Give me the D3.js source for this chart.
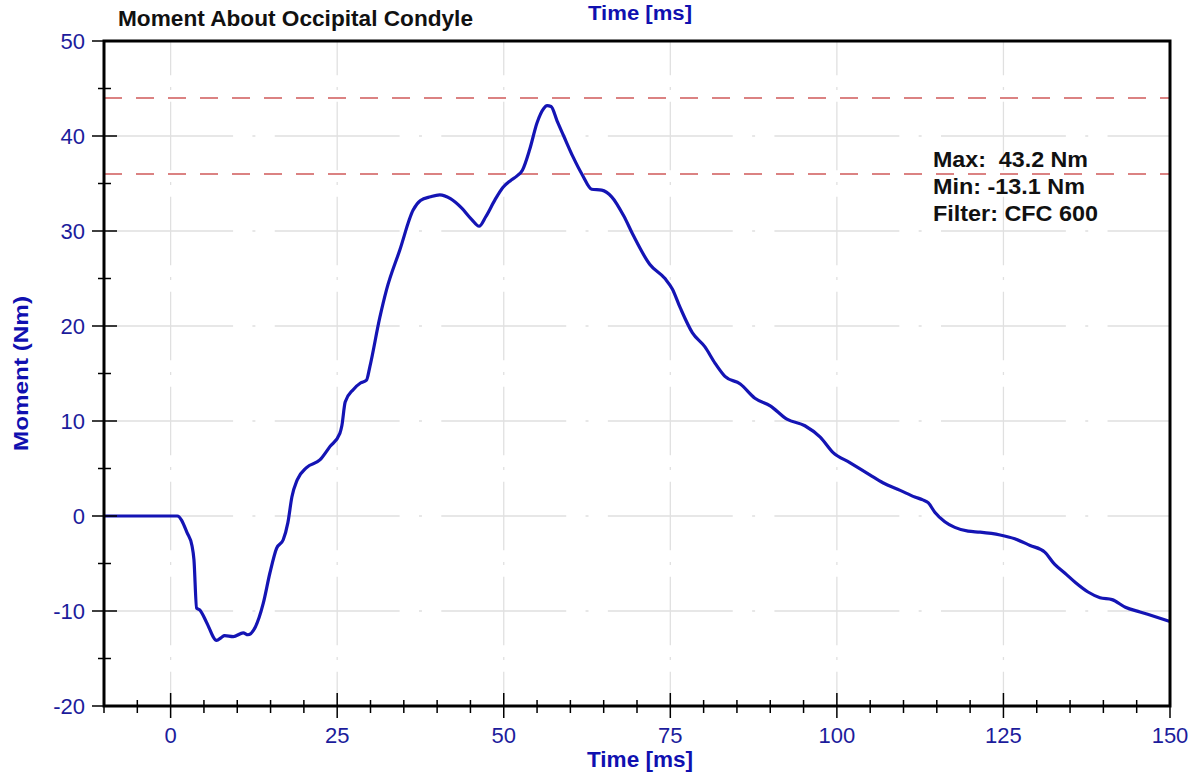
<!DOCTYPE html>
<html>
<head>
<meta charset="utf-8">
<script src="https://cdn.jsdelivr.net/npm/d3@7"></script>
<style>
  html, body { margin: 0; padding: 0; background: #fff; }
  svg { display: block; font-family: "Liberation Sans", Arial, sans-serif; }
</style>
</head>
<body>
<svg id="chart" width="1197" height="776"></svg>
<script>
// ---- data ----
const timeMs = [-10, 1.0, 2.5, 3.2, 3.5, 3.9, 4.4, 5.4, 6.9, 7.6, 8.1, 9.4, 10.9, 11.6, 12.7, 13.9, 14.9, 15.9, 16.9, 17.6,
  18.2, 19.0, 20.4, 22.4, 23.9, 25.4, 25.7, 26.2, 27.4, 28.5, 29.4, 29.9, 31.4, 32.4, 34.4, 36.4, 37.5, 39.0, 40.4, 42.0,
  43.7, 45.2, 46.3, 47.3, 48.7, 49.9, 51.0, 52.0, 52.8, 53.9, 55.0, 56.0, 56.5, 57.1, 58.0, 59.0, 60.4, 61.8, 63.2, 64.7,
  66.2, 68.0, 69.4, 71.9, 74.2, 75.3, 76.5, 78.3, 80.2, 81.7, 83.2, 85.5, 87.7, 90.0, 92.5, 95.2, 97.5, 99.4, 102.0, 105.0,
  106.9, 109.5, 111.7, 112.9, 113.7, 114.7, 116.2, 117.7, 119.7, 121.5, 124.5, 126.7, 129.0, 131.2, 132.7, 134.2, 135.8,
  137.7, 139.5, 141.3, 143.3, 145.5, 147.8, 150.0];
const momentNm = [0, 0, -1.8, -3.1, -4.6, -9.7, -9.9, -11.2, -13.1, -12.8, -12.6, -12.7, -12.3, -12.5, -11.7, -9.2, -6.0, -3.4, -2.5, -0.7,
  2.0, 3.8, 5.1, 5.9, 7.3, 8.7, 9.5, 12.0, 13.3, 14.0, 14.3, 15.7, 20.9, 23.8, 28.0, 32.2, 33.2, 33.6, 33.8, 33.4,
  32.4, 31.2, 30.5, 31.5, 33.3, 34.6, 35.3, 35.8, 36.4, 38.6, 41.4, 42.9, 43.2, 43.1, 41.6, 40.0, 37.8, 35.9, 34.4, 34.3,
  33.6, 31.6, 29.6, 26.5, 25.0, 23.9, 21.9, 19.3, 17.8, 16.1, 14.7, 13.9, 12.4, 11.6, 10.2, 9.5, 8.3, 6.7, 5.6, 4.3,
  3.5, 2.7, 2.0, 1.7, 1.4, 0.4, -0.6, -1.2, -1.6, -1.7, -2.0, -2.4, -3.1, -3.8, -5.1, -6.0, -7.0,
  -8.0, -8.6, -8.8, -9.6, -10.1, -10.6, -11.1];
const xTickLabels = [0, 25, 50, 75, 100, 125, 150];
const yTickLabels = [-20, -10, 0, 10, 20, 30, 40, 50];
const limitLines = [44, 36];
const annotationLines = ["Max:  43.2 Nm", "Min: -13.1 Nm", "Filter: CFC 600"];
const chartTitle = "Moment About Occipital Condyle";
const xTitle = "Time [ms]";
const yTitle = "Moment (Nm)";

// ---- layout ----
const W = 1197, H = 776;
const m = { left: 104, right: 27, top: 41, bottom: 70 };
const svg = d3.select("#chart");
const x = d3.scaleLinear().domain([-10, 150]).range([m.left, W - m.right]);
const y = d3.scaleLinear().domain([-20, 50]).range([H - m.bottom, m.top]);
const blue = "#1c1c9c";
const titleBlue = "#1010b0";
const gridColor = "#e0e0e0";

// ---- grid (long segment centred on each crossing grid line, small dot between) ----
const xPeriod = x(25) - x(0);
const yPeriod = y(0) - y(10);
const g = svg.append("g");
function pattern(p, segFrac) {
  const seg = p * segFrac, gap = (p - seg - 3) / 2;
  return { arr: `${seg},${gap},3,${gap}`, seg };
}
const hp = pattern(xPeriod, 0.75);
const hStart = x(0) - hp.seg / 2 - x(-10);
g.selectAll(".hgrid").data(d3.range(-10, 50, 10)).join("line")
  .attr("x1", x(-10)).attr("x2", x(150))
  .attr("y1", d => y(d)).attr("y2", d => y(d))
  .attr("stroke", gridColor).attr("stroke-width", 1.3)
  .attr("stroke-dasharray", hp.arr)
  .attr("stroke-dashoffset", xPeriod - (((hStart % xPeriod) + xPeriod) % xPeriod));
const vp = pattern(yPeriod, 0.72);
g.selectAll(".vgrid").data(d3.range(0, 150, 25)).join("line")
  .attr("x1", d => x(d)).attr("x2", d => x(d))
  .attr("y1", y(50)).attr("y2", y(-20))
  .attr("stroke", gridColor).attr("stroke-width", 1.3)
  .attr("stroke-dasharray", vp.arr)
  .attr("stroke-dashoffset", vp.seg / 2);

// ---- limit lines ----
svg.append("g").selectAll("line").data(limitLines).join("line")
  .attr("x1", x(-10)).attr("x2", x(150))
  .attr("y1", d => y(d)).attr("y2", d => y(d))
  .attr("stroke", "#cf5a5a").attr("stroke-width", 1.4)
  .attr("stroke-dasharray", "18,14");

// ---- curve ----
const pts = timeMs.map((t, i) => [t, momentNm[i]]);
svg.append("path").datum(pts)
  .attr("fill", "none").attr("stroke", "#1414b4").attr("stroke-width", 3.2)
  .attr("stroke-linejoin", "round")
  .attr("d", d3.line().x(d => x(d[0])).y(d => y(d[1])).curve(d3.curveMonotoneX));

// ---- axes ----
const ax = svg.append("g");
const xMinor = d3.range(-10, 151, 5).filter(v => v % 25 !== 0);
ax.selectAll(".xminor").data(xMinor).join("line")
  .attr("x1", d => x(d)).attr("x2", d => x(d))
  .attr("y1", y(-20) - 6).attr("y2", y(-20) + 7)
  .attr("stroke", "#000").attr("stroke-width", 1.5);
ax.selectAll(".xmajor").data(xTickLabels).join("line")
  .attr("x1", d => x(d)).attr("x2", d => x(d))
  .attr("y1", y(-20) - 13).attr("y2", y(-20) + 12)
  .attr("stroke", "#000").attr("stroke-width", 1.5);
const yMinor = d3.range(-15, 50, 10);
ax.selectAll(".yminor").data(yMinor).join("line")
  .attr("x1", x(-10) - 6).attr("x2", x(-10) + 7)
  .attr("y1", d => y(d)).attr("y2", d => y(d))
  .attr("stroke", "#000").attr("stroke-width", 1.5);
ax.selectAll(".ymajor").data(yTickLabels).join("line")
  .attr("x1", x(-10) - 12).attr("x2", d => (d === 50 || d === -20) ? x(-10) : x(-10) + 13)
  .attr("y1", d => y(d)).attr("y2", d => y(d))
  .attr("stroke", "#000").attr("stroke-width", 1.5);
svg.append("rect")
  .attr("x", x(-10)).attr("y", y(50))
  .attr("width", x(150) - x(-10)).attr("height", y(-20) - y(50))
  .attr("fill", "none").attr("stroke", "#000").attr("stroke-width", 3);

// tick labels
ax.selectAll(".xl").data(xTickLabels).join("text")
  .attr("x", d => x(d)).attr("y", y(-20) + 37)
  .attr("text-anchor", "middle").attr("fill", blue)
  .attr("font-size", 22).text(d => d);
ax.selectAll(".yl").data(yTickLabels).join("text")
  .attr("x", x(-10) - 19).attr("y", d => y(d) + 8)
  .attr("text-anchor", "end").attr("fill", blue)
  .attr("font-size", 22).text(d => d);

// titles
svg.append("text").attr("x", 640).attr("y", 767)
  .attr("text-anchor", "middle").attr("fill", titleBlue)
  .attr("font-weight", "bold").attr("font-size", 22)
  .attr("textLength", 106).attr("lengthAdjust", "spacingAndGlyphs").text(xTitle);
svg.append("text").attr("x", 640).attr("y", 20)
  .attr("text-anchor", "middle").attr("fill", titleBlue)
  .attr("font-weight", "bold").attr("font-size", 20)
  .attr("textLength", 104).attr("lengthAdjust", "spacingAndGlyphs").text(xTitle);
svg.append("text").attr("transform", `translate(28,${(y(50) + y(-20)) / 2}) rotate(-90)`)
  .attr("text-anchor", "middle").attr("fill", titleBlue)
  .attr("font-weight", "bold").attr("font-size", 21)
  .attr("textLength", 155).attr("lengthAdjust", "spacingAndGlyphs").text(yTitle);
svg.append("text").attr("x", 118).attr("y", 26)
  .attr("fill", "#111").attr("font-weight", "bold").attr("font-size", 22)
  .attr("textLength", 355).attr("lengthAdjust", "spacingAndGlyphs").text(chartTitle);

// annotation
const annoWidths = [155, 152, 165];
svg.append("g").selectAll("text").data(annotationLines).join("text")
  .attr("x", 933).attr("y", (d, i) => 167 + i * 27)
  .attr("fill", "#111").attr("font-weight", "bold").attr("font-size", 22)
  .attr("xml:space", "preserve").style("white-space", "pre")
  .attr("textLength", (d, i) => annoWidths[i]).attr("lengthAdjust", "spacingAndGlyphs")
  .text(d => d);
</script>
</body>
</html>
